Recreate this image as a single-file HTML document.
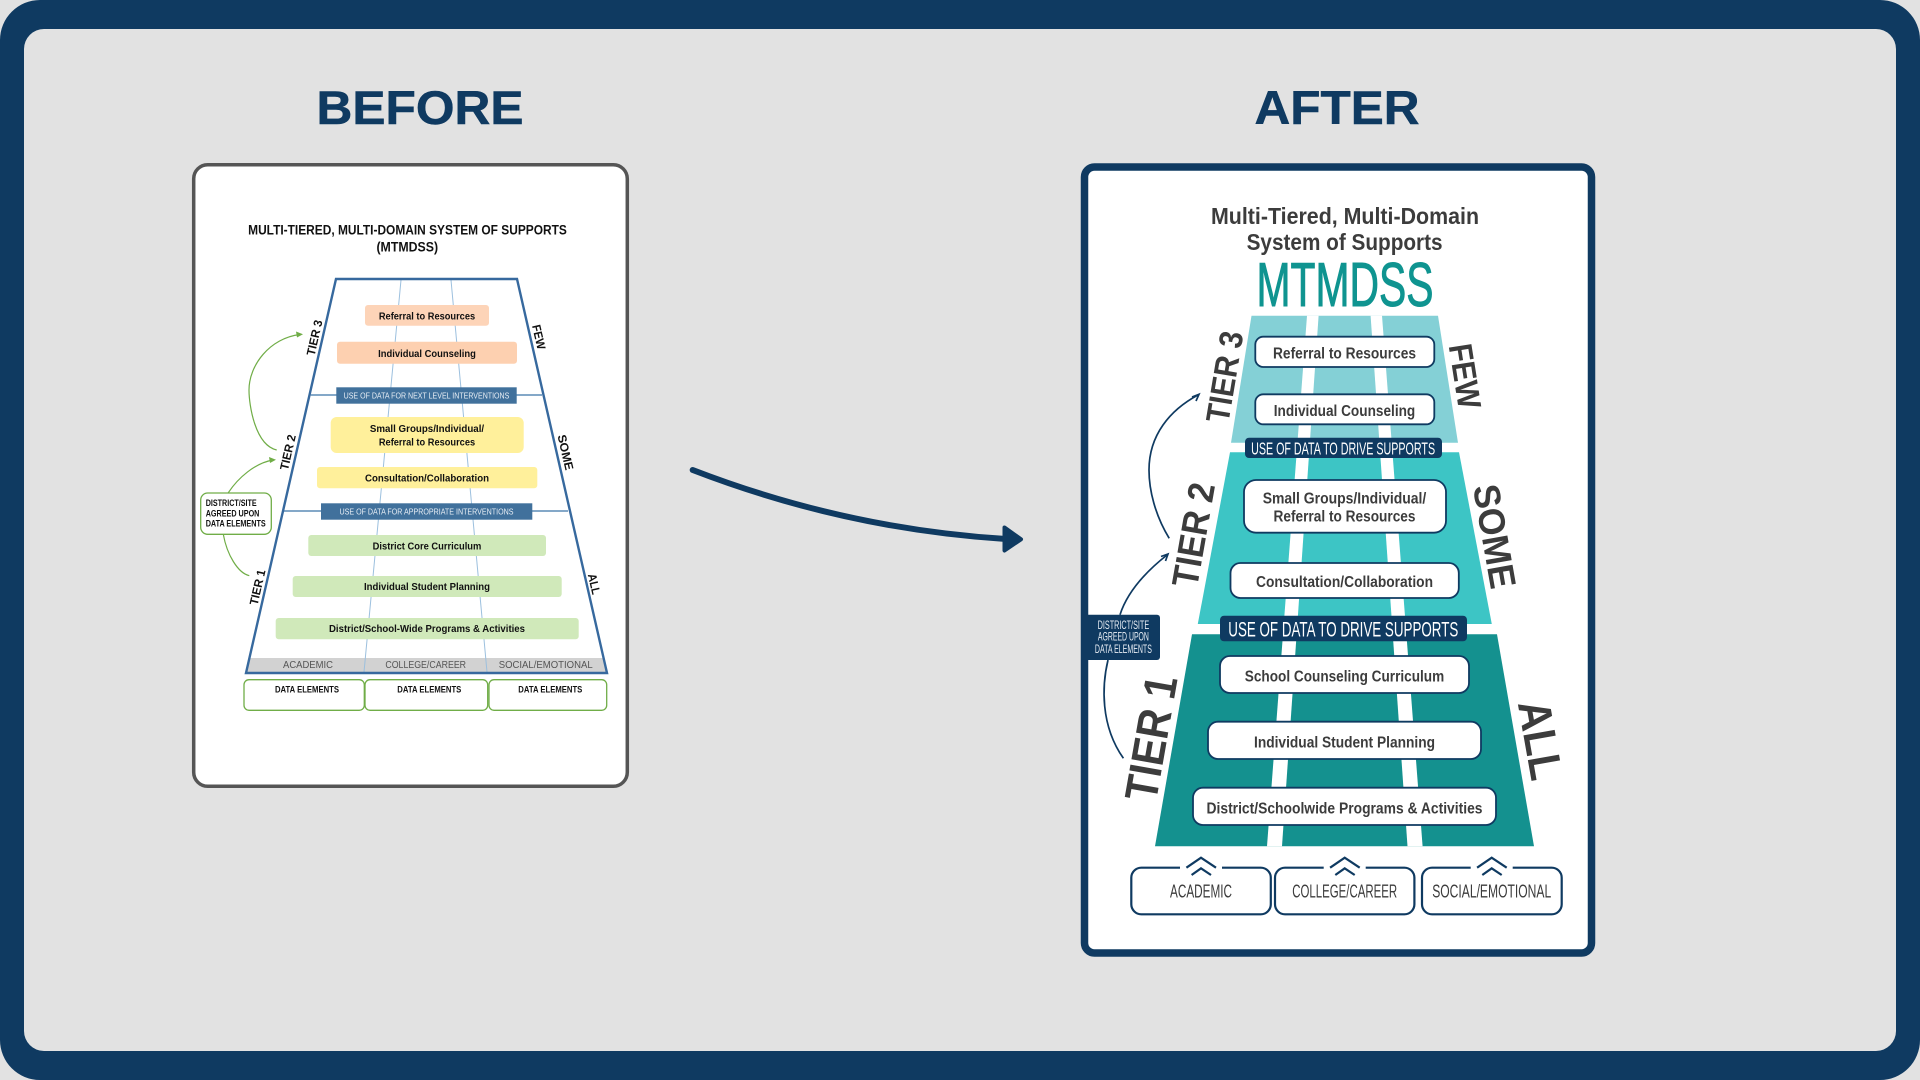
<!DOCTYPE html>
<html><head><meta charset="utf-8"><title>Before and After MTMDSS</title>
<style>
html,body{margin:0;padding:0;background:#e2e2e2;width:1920px;height:1080px;overflow:hidden}
svg{display:block}
text{font-family:"Liberation Sans",sans-serif}
.b{font-weight:bold}
</style></head><body>
<svg width="1920" height="1080" viewBox="0 0 1920 1080" xmlns="http://www.w3.org/2000/svg">
<rect width="1920" height="1080" fill="#e2e2e2"/>
<path fill-rule="evenodd" fill="#0f3a61" d="M40 0H1880A40 40 0 0 1 1920 40V1040A40 40 0 0 1 1880 1080H40A40 40 0 0 1 0 1040V40A40 40 0 0 1 40 0ZM44 29A20 20 0 0 0 24 49V1031A20 20 0 0 0 44 1051H1876A20 20 0 0 0 1896 1031V49A20 20 0 0 0 1876 29Z"/>

<text x="420" y="124" class="b" font-size="47" fill="#0f3a61" stroke="#0f3a61" stroke-width="0.5" text-anchor="middle" textLength="207" lengthAdjust="spacingAndGlyphs">BEFORE</text>
<text x="1337" y="124" class="b" font-size="47" fill="#0f3a61" stroke="#0f3a61" stroke-width="0.5" text-anchor="middle" textLength="165" lengthAdjust="spacingAndGlyphs">AFTER</text>

<!-- main arrow -->
<path d="M692.7 470Q845.6 529 1006 539" fill="none" stroke="#0f3a61" stroke-width="6" stroke-linecap="round"/>
<path d="M1004.5 527.5L1021 539.3L1004.5 550.5Z" fill="#0f3a61" stroke="#0f3a61" stroke-width="4" stroke-linejoin="round"/>

<!-- BEFORE CARD -->
<rect x="193.7" y="164.7" width="433.6" height="621.6" rx="14" fill="#fff" stroke="#555" stroke-width="3.5"/>
<g class="b" fill="#111" text-anchor="middle" font-weight="bold">
<text x="407.5" y="234.3" font-size="13.5" textLength="318.7" lengthAdjust="spacingAndGlyphs">MULTI-TIERED, MULTI-DOMAIN SYSTEM OF SUPPORTS</text>
<text x="407.3" y="251.7" font-size="13.5" textLength="61.7" lengthAdjust="spacingAndGlyphs">(MTMDSS)</text>
</g>
<polygon points="249.4,658 603.6,658 606,672 247,672" fill="#d2d2d2"/>
<g stroke="#9cc0de" stroke-width="1" fill="none">
<line x1="401" y1="280" x2="364" y2="672"/>
<line x1="451" y1="280" x2="487" y2="672"/>
</g>
<g stroke="#5b8bb5" stroke-width="1.4">
<line x1="310.7" y1="395" x2="542" y2="395"/>
<line x1="284" y1="511" x2="568" y2="511"/>
</g>
<polygon points="336,279 517,279 607,673 246,673" fill="none" stroke="#37699e" stroke-width="2.4"/>
<rect x="365" y="305" width="124" height="20.7" rx="3" fill="#fdd4b8"/>
<rect x="337" y="341.7" width="180" height="22" rx="3" fill="#fdd0b0"/>
<rect x="336.3" y="387.3" width="180.4" height="16.4" fill="#41719c"/>
<rect x="330.7" y="417" width="193" height="36" rx="6" fill="#fff09b"/>
<rect x="317" y="467" width="220.3" height="21.3" rx="3" fill="#fff09b"/>
<rect x="321" y="503.3" width="211.3" height="16.4" fill="#41719c"/>
<rect x="308.3" y="535" width="237.7" height="21" rx="3" fill="#d0e9ba"/>
<rect x="292.7" y="576" width="269" height="21" rx="3" fill="#d0e9ba"/>
<rect x="275.7" y="618" width="303" height="21.3" rx="3" fill="#d0e9ba"/>
<g font-weight="bold" fill="#111" text-anchor="middle" font-size="10.5">
<text x="427" y="319.5" textLength="96.3" lengthAdjust="spacingAndGlyphs">Referral to Resources</text>
<text x="427" y="357" textLength="97.7" lengthAdjust="spacingAndGlyphs">Individual Counseling</text>
<text x="427" y="432" textLength="114.3" lengthAdjust="spacingAndGlyphs">Small Groups/Individual/</text>
<text x="427" y="445.7" textLength="96.3" lengthAdjust="spacingAndGlyphs">Referral to Resources</text>
<text x="427" y="481.7" textLength="124" lengthAdjust="spacingAndGlyphs">Consultation/Collaboration</text>
<text x="427" y="549.3" textLength="108.7" lengthAdjust="spacingAndGlyphs">District Core Curriculum</text>
<text x="427" y="590" textLength="126" lengthAdjust="spacingAndGlyphs">Individual Student Planning</text>
<text x="427" y="632" textLength="196" lengthAdjust="spacingAndGlyphs">District/School-Wide Programs &amp; Activities</text>
</g>
<g fill="#e8eef5" text-anchor="middle" font-size="8.6">
<text x="426.5" y="398.7" textLength="165.7" lengthAdjust="spacingAndGlyphs">USE OF DATA FOR NEXT LEVEL INTERVENTIONS</text>
<text x="426.5" y="514.4" textLength="174" lengthAdjust="spacingAndGlyphs">USE OF DATA FOR APPROPRIATE INTERVENTIONS</text>
</g>
<g fill="#555" text-anchor="middle" font-size="10.5">
<text x="308" y="668" textLength="50" lengthAdjust="spacingAndGlyphs">ACADEMIC</text>
<text x="425.7" y="668" textLength="80.7" lengthAdjust="spacingAndGlyphs">COLLEGE/CAREER</text>
<text x="545.7" y="668" textLength="94" lengthAdjust="spacingAndGlyphs">SOCIAL/EMOTIONAL</text>
</g>
<g fill="#fff" stroke="#70ad47" stroke-width="1.3">
<rect x="244" y="679.7" width="120.3" height="30.6" rx="5"/>
<rect x="365" y="679.7" width="122.7" height="30.6" rx="5"/>
<rect x="489" y="679.7" width="117.7" height="30.6" rx="5"/>
</g>
<g font-weight="bold" fill="#111" text-anchor="middle" font-size="9">
<text x="307" y="692.7" textLength="64" lengthAdjust="spacingAndGlyphs">DATA ELEMENTS</text>
<text x="429.3" y="692.7" textLength="64" lengthAdjust="spacingAndGlyphs">DATA ELEMENTS</text>
<text x="550.3" y="692.7" textLength="64" lengthAdjust="spacingAndGlyphs">DATA ELEMENTS</text>
</g>
<!-- before side -->
<g fill="none" stroke="#70ad47" stroke-width="1.2">
<path d="M276.7 450C255 445 249 405 249 390C249 365 270 338 300 334.5"/>
<path d="M228.3 492.7C238 478 255 463 273 460"/>
<path d="M223.3 534.3C227 555 238 573 249.3 575.7"/>
</g>
<polygon points="303,334.3 296,331.5 297,337.5" fill="#70ad47"/>
<polygon points="276,459.8 269,457 270,463" fill="#70ad47"/>
<rect x="200.7" y="493" width="70.6" height="41.3" rx="7" fill="#fff" stroke="#70ad47" stroke-width="1.3"/>
<g font-weight="bold" fill="#111" font-size="8.8">
<text x="205.7" y="506" textLength="51" lengthAdjust="spacingAndGlyphs">DISTRICT/SITE</text>
<text x="205.7" y="516.3" textLength="53.7" lengthAdjust="spacingAndGlyphs">AGREED UPON</text>
<text x="205.7" y="526.7" textLength="60" lengthAdjust="spacingAndGlyphs">DATA ELEMENTS</text>
</g>
<g font-weight="bold" fill="#111" text-anchor="middle" font-size="12">
<text transform="translate(314.3,337.7) rotate(-77)" y="4.3" textLength="36" lengthAdjust="spacingAndGlyphs">TIER 3</text>
<text transform="translate(287.7,452.3) rotate(-77)" y="4.3" textLength="36" lengthAdjust="spacingAndGlyphs">TIER 2</text>
<text transform="translate(257.3,587.3) rotate(-77)" y="4.3" textLength="36" lengthAdjust="spacingAndGlyphs">TIER 1</text>
<text transform="translate(539,337) rotate(77)" y="4.3" textLength="25" lengthAdjust="spacingAndGlyphs">FEW</text>
<text transform="translate(565.7,452.3) rotate(77)" y="4.3" textLength="36" lengthAdjust="spacingAndGlyphs">SOME</text>
<text transform="translate(594.3,584) rotate(77)" y="4.3" textLength="21" lengthAdjust="spacingAndGlyphs">ALL</text>
</g>

<!-- AFTER CARD -->
<rect x="1084.5" y="167" width="507" height="786" rx="10" fill="#fff" stroke="#0f3a61" stroke-width="7.5"/>
<g font-weight="bold" fill="#3c3c3c" text-anchor="middle" font-size="23">
<text x="1345" y="224" textLength="268" lengthAdjust="spacingAndGlyphs">Multi-Tiered, Multi-Domain</text>
<text x="1344.6" y="250" textLength="196" lengthAdjust="spacingAndGlyphs">System of Supports</text>
</g>
<text x="1345" y="306" font-size="62" fill="#0f9490" stroke="#0f9490" stroke-width="1" text-anchor="middle" textLength="177" lengthAdjust="spacingAndGlyphs">MTMDSS</text>

<polygon points="1251.5,315.7 1438,315.7 1458,442.7 1231,442.7" fill="#84d0d6"/>
<polygon points="1230,452.3 1459,452.3 1491.8,624 1197.8,624" fill="#3dc5c5"/>
<polygon points="1192,634.3 1497,634.3 1534,846.3 1155,846.3" fill="#14918f"/>
<polygon points="1307,315.7 1318.6,315.7 1282,846.3 1267,846.3" fill="#fff"/>
<polygon points="1370.6,315.7 1382,315.7 1422.6,846.3 1407.5,846.3" fill="#fff"/>

<g fill="#fff" stroke="#0f3a61" stroke-width="1.8">
<rect x="1255.3" y="336.7" width="179" height="30.3" rx="8"/>
<rect x="1255.3" y="394.3" width="179" height="30" rx="8"/>
<rect x="1244" y="480" width="202" height="52.7" rx="12"/>
<rect x="1230.5" y="563" width="228.3" height="35" rx="10"/>
<rect x="1220" y="656" width="249" height="37" rx="10"/>
<rect x="1208" y="721.7" width="273" height="37.3" rx="10"/>
<rect x="1193" y="787.7" width="303" height="37.3" rx="10"/>
</g>
<rect x="1245" y="437.7" width="197" height="20.3" rx="4" fill="#0f3a61"/>
<rect x="1220" y="615.7" width="247" height="25.6" rx="4" fill="#0f3a61"/>
<g fill="#fff" text-anchor="middle">
<text x="1343.1" y="454.3" font-size="17.6" textLength="184" lengthAdjust="spacingAndGlyphs">USE OF DATA TO DRIVE SUPPORTS</text>
<text x="1343.3" y="636.7" font-size="21.3" textLength="230" lengthAdjust="spacingAndGlyphs">USE OF DATA TO DRIVE SUPPORTS</text>
</g>
<g font-weight="bold" fill="#3c3c3c" text-anchor="middle" font-size="15.5">
<text x="1344.5" y="358.3" textLength="143" lengthAdjust="spacingAndGlyphs">Referral to Resources</text>
<text x="1344.5" y="416" textLength="141.5" lengthAdjust="spacingAndGlyphs">Individual Counseling</text>
<text x="1344.5" y="503.3" textLength="163.6" lengthAdjust="spacingAndGlyphs">Small Groups/Individual/</text>
<text x="1344.5" y="521.3" textLength="142" lengthAdjust="spacingAndGlyphs">Referral to Resources</text>
<text x="1344.5" y="587" textLength="177" lengthAdjust="spacingAndGlyphs">Consultation/Collaboration</text>
<text x="1344.5" y="681.3" textLength="199.4" lengthAdjust="spacingAndGlyphs">School Counseling Curriculum</text>
<text x="1344.5" y="747.3" textLength="181" lengthAdjust="spacingAndGlyphs">Individual Student Planning</text>
<text x="1344.5" y="813.3" textLength="276" lengthAdjust="spacingAndGlyphs">District/Schoolwide Programs &amp; Activities</text>
</g>

<!-- bottom boxes -->
<g fill="#fff" stroke="#0f3a61" stroke-width="2.2">
<rect x="1131.3" y="867.7" width="139.5" height="46.6" rx="10"/>
<rect x="1275" y="867.7" width="139.4" height="46.6" rx="10"/>
<rect x="1422" y="867.7" width="139.7" height="46.6" rx="10"/>
</g>
<g fill="#fff">
<rect x="1180" y="864" width="42" height="8"/>
<rect x="1323.7" y="864" width="42" height="8"/>
<rect x="1470.7" y="864" width="42" height="8"/>
</g>
<g fill="none" stroke="#0f3a61" stroke-width="2.2">
<path d="M1186.4 867.7L1201 857.7L1216 867.7M1191.6 875L1201 868.3L1211 875"/>
<path d="M1330.1 867.7L1344.7 857.7L1359.7 867.7M1335.3 875L1344.7 868.3L1354.7 875"/>
<path d="M1477.1 867.7L1491.7 857.7L1506.7 867.7M1482.3 875L1491.7 868.3L1501.7 875"/>
</g>
<g fill="#3c3c3c" text-anchor="middle" font-size="18.6">
<text x="1201" y="897.7" textLength="62" lengthAdjust="spacingAndGlyphs">ACADEMIC</text>
<text x="1344.7" y="897.7" textLength="105" lengthAdjust="spacingAndGlyphs">COLLEGE/CAREER</text>
<text x="1491.7" y="897.7" textLength="119" lengthAdjust="spacingAndGlyphs">SOCIAL/EMOTIONAL</text>
</g>

<!-- after side arrows -->
<g fill="none" stroke="#0f3a61" stroke-width="1.7">
<path d="M1169.2 538.3C1155 515 1149 490 1149 470C1149 435 1170 410 1198 395"/>
<path d="M1192 397L1199 394.3L1196 401"/>
<path d="M1120 614.7C1128 590 1148 570 1167 555"/>
<path d="M1161 556.5L1168 554L1165.5 561"/>
<path d="M1108 660C1102 685 1100 725 1123.4 758.3"/>
</g>
<path d="M1088 614.7H1157a3 3 0 0 1 3 3V657a3 3 0 0 1 -3 3H1088Z" fill="#0f3a61"/>
<g fill="#e8eef5" text-anchor="middle" font-size="12">
<text x="1123.4" y="629" textLength="51.6" lengthAdjust="spacingAndGlyphs">DISTRICT/SITE</text>
<text x="1123.4" y="640.7" textLength="51" lengthAdjust="spacingAndGlyphs">AGREED UPON</text>
<text x="1123.4" y="653" textLength="57" lengthAdjust="spacingAndGlyphs">DATA ELEMENTS</text>
</g>
<g font-weight="bold" fill="#3c3c3c" text-anchor="middle">
<text transform="translate(1224,376.7) rotate(-80.5)" y="12" font-size="33" textLength="92" lengthAdjust="spacingAndGlyphs">TIER 3</text>
<text transform="translate(1193,534.7) rotate(-80)" y="13.2" font-size="37" textLength="105" lengthAdjust="spacingAndGlyphs">TIER 2</text>
<text transform="translate(1151,738) rotate(-80)" y="16" font-size="46" textLength="126" lengthAdjust="spacingAndGlyphs">TIER 1</text>
<text transform="translate(1465.6,376) rotate(81)" y="12" font-size="33" textLength="65" lengthAdjust="spacingAndGlyphs">FEW</text>
<text transform="translate(1495,536.3) rotate(80)" y="13.2" font-size="37" textLength="105" lengthAdjust="spacingAndGlyphs">SOME</text>
<text transform="translate(1540.5,740) rotate(80)" y="16" font-size="46" textLength="80" lengthAdjust="spacingAndGlyphs">ALL</text>
</g>
</svg>
</body></html>
